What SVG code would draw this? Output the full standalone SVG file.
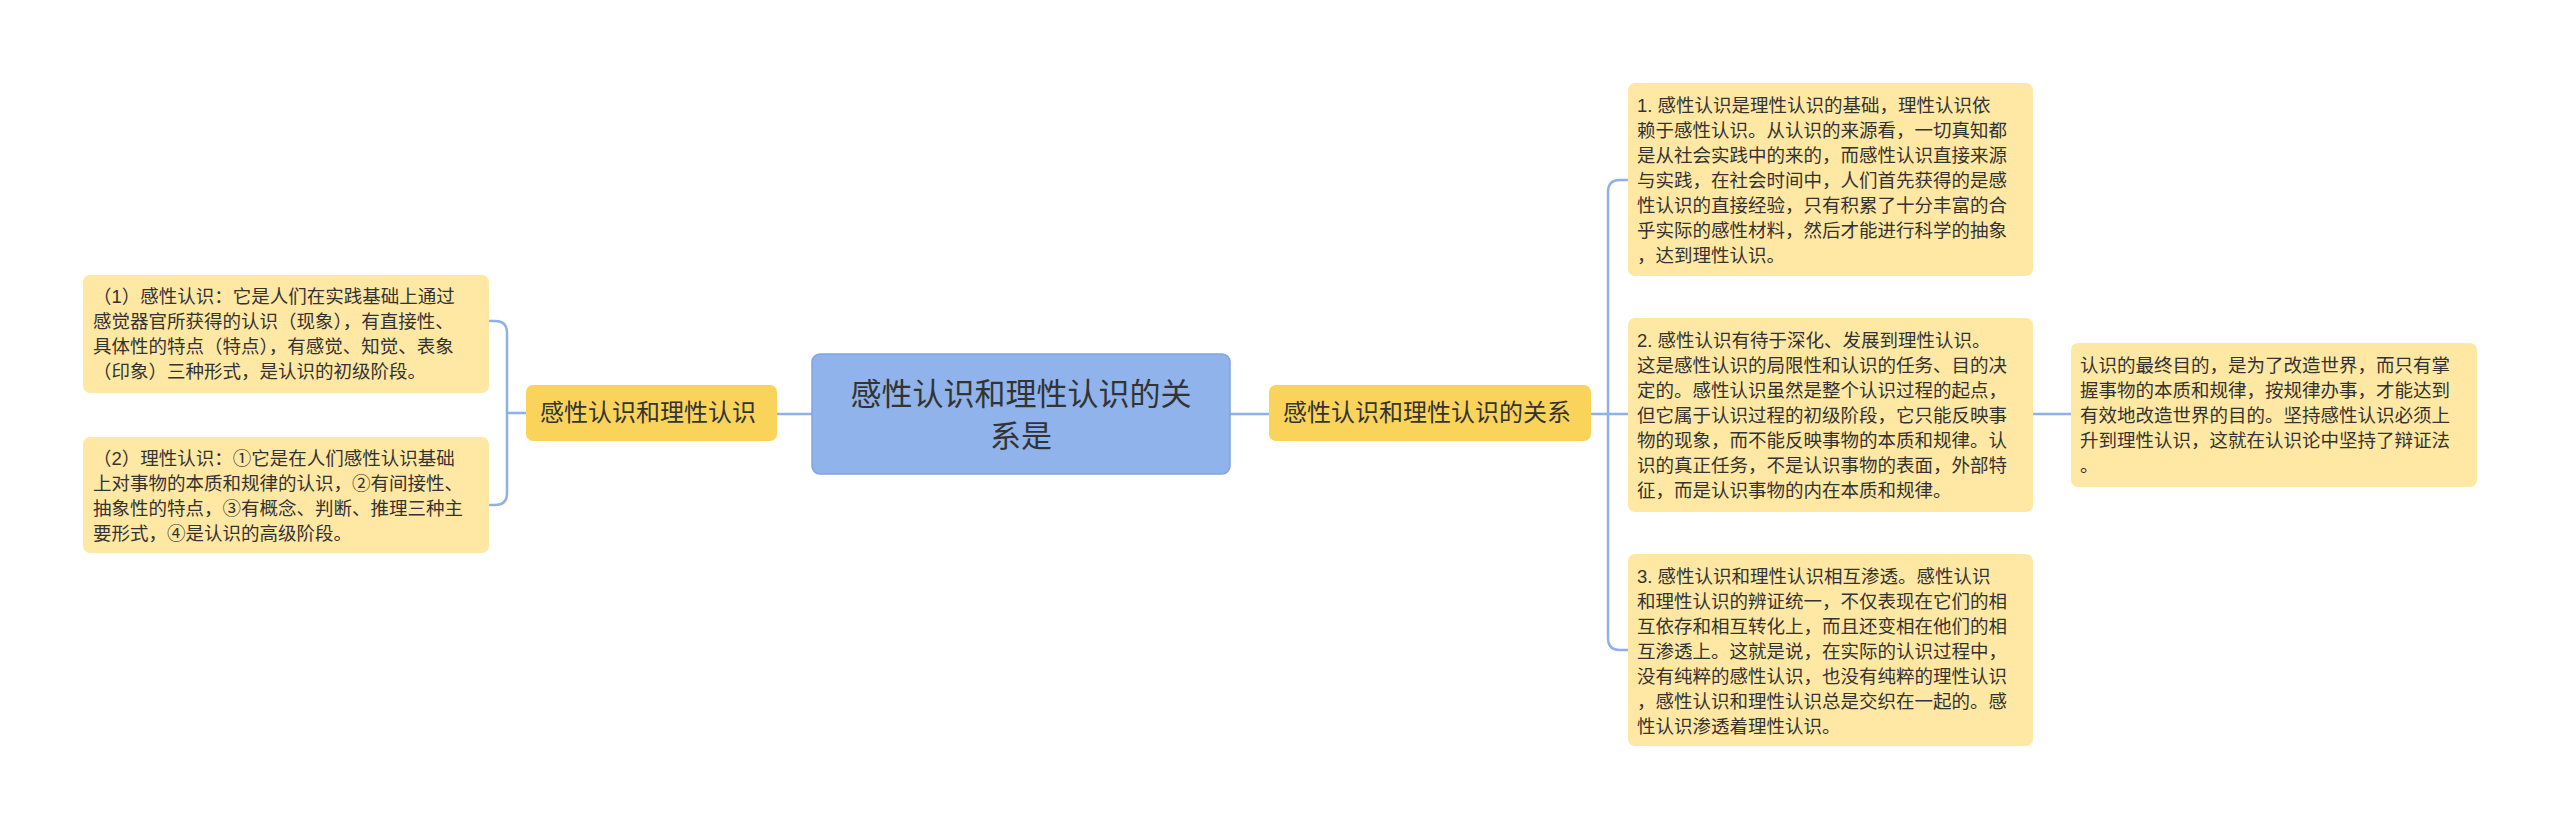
<svg xmlns="http://www.w3.org/2000/svg" width="2560" height="830" viewBox="0 0 2560 830">
<style>
text{font-family:"Liberation Sans","Noto Sans CJK SC",sans-serif;fill:#333}
.leaf{fill:#FFE8A3}
.br{fill:#FAD45A}
.lt{font-size:18.5px}
.bt{font-size:24px}
.ct{font-size:31px;text-anchor:middle}
.c{fill:none;stroke:#90B1E6;stroke-width:2.5}
</style>
<rect width="2560" height="830" fill="#fff"/>
<g id="connectors">
<path class="c" d="M812 414H777"/>
<path class="c" d="M526 413H507M507 333V493M507 333q0 -12 -12 -12H489M507 493q0 12 -12 12H489"/>
<path class="c" d="M1230 414H1269"/>
<path class="c" d="M1591 414H1608M1608 192V638M1608 192q0 -12 12 -12H1628M1608 638q0 12 12 12H1628M1608 414H1628"/>
<path class="c" d="M2033 414H2071"/>
</g>
<g id="center">
<rect x="812" y="354" width="418" height="120" rx="8" fill="#8FB3EA" stroke="#7FA5E2" stroke-width="1.5"/>
<text class="ct" x="1021" y="405">感性认识和理性认识的关</text>
<text class="ct" x="1021" y="447">系是</text>
</g>
<g id="branch-left">
<rect class="br" x="526" y="385" width="251" height="56" rx="7"/>
<text class="bt" x="540" y="421">感性认识和理性认识</text>
</g>
<g id="leaf-left-1">
<rect class="leaf" x="83" y="275" width="406" height="118" rx="7"/>
<text class="lt" x="93" y="303">（1）感性认识：它是人们在实践基础上通过</text>
<text class="lt" x="93" y="328">感觉器官所获得的认识（现象），有直接性、</text>
<text class="lt" x="93" y="353">具体性的特点（特点），有感觉、知觉、表象</text>
<text class="lt" x="93" y="378">（印象）三种形式，是认识的初级阶段。</text>
</g>
<g id="leaf-left-2">
<rect class="leaf" x="83" y="437" width="406" height="116" rx="7"/>
<text class="lt" x="93" y="465">（2）理性认识：①它是在人们感性认识基础</text>
<text class="lt" x="93" y="490">上对事物的本质和规律的认识，②有间接性、</text>
<text class="lt" x="93" y="515">抽象性的特点，③有概念、判断、推理三种主</text>
<text class="lt" x="93" y="540">要形式，④是认识的高级阶段。</text>
</g>
<g id="branch-right">
<rect class="br" x="1269" y="385" width="322" height="56" rx="7"/>
<text class="bt" x="1283" y="421">感性认识和理性认识的关系</text>
</g>
<g id="leaf-right-1">
<rect class="leaf" x="1628" y="83" width="405" height="193" rx="7"/>
<text class="lt" x="1637" y="112">1.  感性认识是理性认识的基础，理性认识依</text>
<text class="lt" x="1637" y="137">赖于感性认识。从认识的来源看，一切真知都</text>
<text class="lt" x="1637" y="162">是从社会实践中的来的，而感性认识直接来源</text>
<text class="lt" x="1637" y="187">与实践，在社会时间中，人们首先获得的是感</text>
<text class="lt" x="1637" y="212">性认识的直接经验，只有积累了十分丰富的合</text>
<text class="lt" x="1637" y="237">乎实际的感性材料，然后才能进行科学的抽象</text>
<text class="lt" x="1637" y="262">，达到理性认识。</text>
</g>
<g id="leaf-right-2">
<rect class="leaf" x="1628" y="318" width="405" height="194" rx="7"/>
<text class="lt" x="1637" y="347">2.  感性认识有待于深化、发展到理性认识。</text>
<text class="lt" x="1637" y="372">这是感性认识的局限性和认识的任务、目的决</text>
<text class="lt" x="1637" y="397">定的。感性认识虽然是整个认识过程的起点，</text>
<text class="lt" x="1637" y="422">但它属于认识过程的初级阶段，它只能反映事</text>
<text class="lt" x="1637" y="447">物的现象，而不能反映事物的本质和规律。认</text>
<text class="lt" x="1637" y="472">识的真正任务，不是认识事物的表面，外部特</text>
<text class="lt" x="1637" y="497">征，而是认识事物的内在本质和规律。</text>
</g>
<g id="leaf-right-3">
<rect class="leaf" x="1628" y="554" width="405" height="192" rx="7"/>
<text class="lt" x="1637" y="583">3.  感性认识和理性认识相互渗透。感性认识</text>
<text class="lt" x="1637" y="608">和理性认识的辨证统一，不仅表现在它们的相</text>
<text class="lt" x="1637" y="633">互依存和相互转化上，而且还变相在他们的相</text>
<text class="lt" x="1637" y="658">互渗透上。这就是说，在实际的认识过程中，</text>
<text class="lt" x="1637" y="683">没有纯粹的感性认识，也没有纯粹的理性认识</text>
<text class="lt" x="1637" y="708">，感性认识和理性认识总是交织在一起的。感</text>
<text class="lt" x="1637" y="733">性认识渗透着理性认识。</text>
</g>
<g id="leaf-far-right">
<rect class="leaf" x="2071" y="343" width="406" height="144" rx="7"/>
<text class="lt" x="2080" y="372">认识的最终目的，是为了改造世界，而只有掌</text>
<text class="lt" x="2080" y="397">握事物的本质和规律，按规律办事，才能达到</text>
<text class="lt" x="2080" y="422">有效地改造世界的目的。坚持感性认识必须上</text>
<text class="lt" x="2080" y="447">升到理性认识，这就在认识论中坚持了辩证法</text>
<text class="lt" x="2080" y="472">。</text>
</g>
</svg>
